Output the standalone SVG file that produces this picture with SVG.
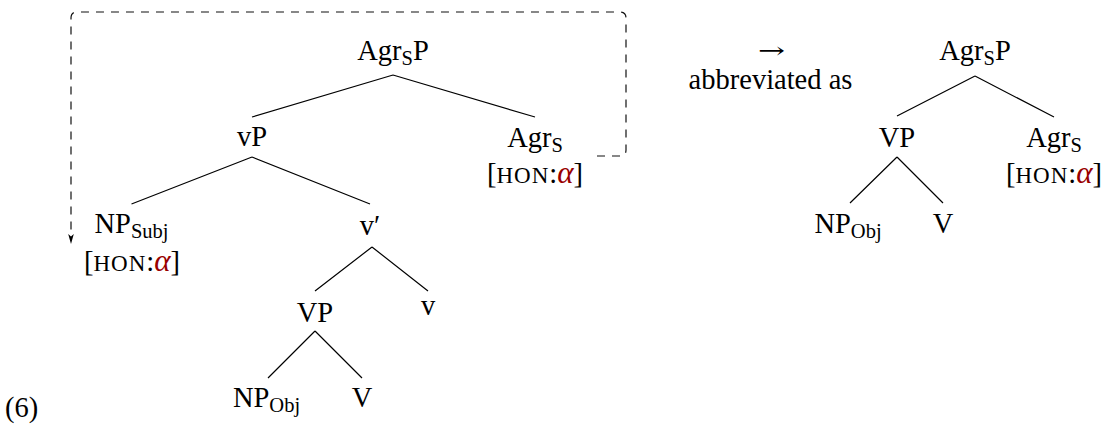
<svg xmlns="http://www.w3.org/2000/svg" width="1105" height="435" viewBox="0 0 1105 435">
  <defs>
    <marker id="tip" viewBox="0 0 10 10" refX="9" refY="5" markerWidth="10" markerHeight="8" orient="auto" markerUnits="userSpaceOnUse" preserveAspectRatio="none">
      <path d="M0,1.5 L10,5 L0,8.5 L2.5,5 Z" fill="#000"/>
    </marker>
  </defs>
  <style>
    text { font-size: 28.5px; fill: #000; }
    .sub { font-size: 20.5px; }
    .sc { font-size: 23px; letter-spacing: 1px; }
    .alpha { font-size: 31px; font-style: italic; fill: #990000; }
    .arrow { font-family: "DejaVu Serif", "DejaVu Sans", serif; font-size: 22px; }
    .edge { stroke: #000; stroke-width: 1.2; fill: none; }
    .move { stroke: #111; stroke-width: 1.2; fill: none; stroke-dasharray: 8 7; }
  </style>

  <rect width="1105" height="435" fill="#fff"/>

  <g font-family="Liberation Serif, Tinos, Times New Roman, Nimbus Roman, DejaVu Serif, serif">

  <!-- example number -->
  <text x="5" y="417">(6)</text>

  <!-- tree edges -->
  <g id="connectors">
    <path class="edge" d="M393,75 L252,117 M393,75 L535,117"/>
    <path class="edge" d="M252,157 L131.5,204 M252,157 L370,204"/>
    <path class="edge" d="M372,247 L315,291 M372,247 L428,291"/>
    <path class="edge" d="M315,331 L268,378 M315,331 L362,378"/>
    <path class="edge" d="M975,76 L897,116 M975,76 L1054,117"/>
    <path class="edge" d="M897,157 L850,203 M897,157 L943,203"/>
    <!-- feature movement from Agr_S down to the subject -->
    <path class="move" d="M597,156 L620,156 Q626,156 626,150 L626,18 Q626,12 620,12 L77,12 Q71,12 71,18 L71,236"/>
    <path d="M71,228 L71,243" stroke="none" fill="none" marker-end="url(#tip)"/>
  </g>

  <!-- full tree -->
  <g id="agrsp">
    <text x="393" y="60" text-anchor="middle">Agr<tspan class="sub" dy="5">S</tspan><tspan dy="-5">P</tspan></text>
  </g>
  <g id="vp-small">
    <text x="252" y="146" text-anchor="middle">vP</text>
  </g>
  <g id="agrs">
    <text x="535" y="147" text-anchor="middle">Agr<tspan class="sub" dy="5">S</tspan></text>
    <text x="535" y="183" text-anchor="middle">[<tspan class="sc">HON</tspan>:<tspan class="alpha">α</tspan>]</text>
  </g>
  <g id="np-subj">
    <text x="131.5" y="233" text-anchor="middle">NP<tspan class="sub" dy="5">Subj</tspan></text>
    <text x="132" y="271" text-anchor="middle">[<tspan class="sc">HON</tspan>:<tspan class="alpha">α</tspan>]</text>
  </g>
  <g id="v-bar">
    <text x="370" y="235" text-anchor="middle">v′</text>
  </g>
  <g id="vp">
    <text x="315" y="322" text-anchor="middle">VP</text>
  </g>
  <g id="v-small">
    <text x="428" y="315" text-anchor="middle">v</text>
  </g>
  <g id="np-obj">
    <text x="266.5" y="407" text-anchor="middle">NP<tspan class="sub" dy="5">Obj</tspan></text>
  </g>
  <g id="v-verb">
    <text x="362" y="407" text-anchor="middle">V</text>
  </g>

  <!-- abbreviation note -->
  <g id="abbrev">
    <text class="arrow" x="758" y="57.5" textLength="27" lengthAdjust="spacingAndGlyphs">→</text>
    <text x="770.5" y="89" text-anchor="middle">abbreviated as</text>
  </g>

  <!-- abbreviated tree -->
  <g id="agrsp-abbr">
    <text x="975" y="60" text-anchor="middle">Agr<tspan class="sub" dy="5">S</tspan><tspan dy="-5">P</tspan></text>
  </g>
  <g id="vp-abbr">
    <text x="897" y="147" text-anchor="middle">VP</text>
  </g>
  <g id="agrs-abbr">
    <text x="1054" y="147" text-anchor="middle">Agr<tspan class="sub" dy="5">S</tspan></text>
    <text x="1054" y="183" text-anchor="middle">[<tspan class="sc">HON</tspan>:<tspan class="alpha">α</tspan>]</text>
  </g>
  <g id="np-obj-abbr">
    <text x="848" y="233" text-anchor="middle">NP<tspan class="sub" dy="5">Obj</tspan></text>
  </g>
  <g id="v-verb-abbr">
    <text x="943" y="233" text-anchor="middle">V</text>
  </g>

  </g>
</svg>
